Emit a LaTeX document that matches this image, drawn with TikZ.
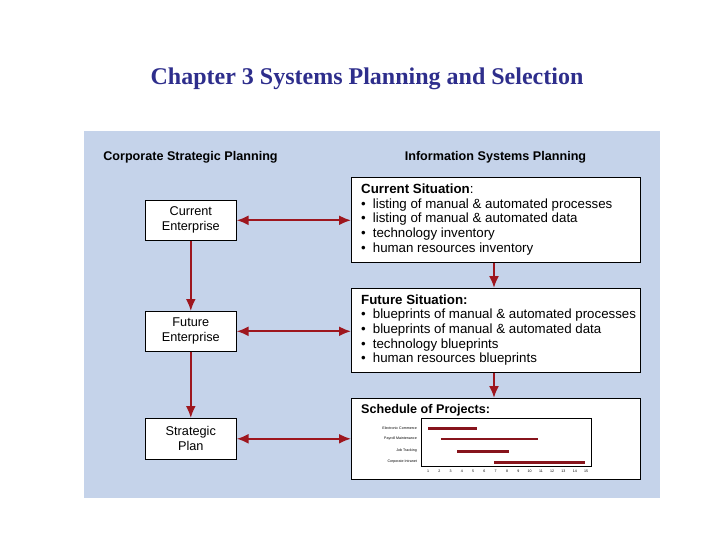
\documentclass[tikz,border=0pt]{standalone}
\usepackage{fontspec}
\setmainfont{Liberation Serif}
\setsansfont{Liberation Sans}
\usetikzlibrary{arrows.meta}

\definecolor{panelblue}{RGB}{197,211,234}
\definecolor{arrowred}{RGB}{158,22,30}
\definecolor{barred}{RGB}{135,20,28}
\definecolor{titleblue}{RGB}{46,46,140}

\begin{document}
\begin{tikzpicture}[x=1pt,y=-1pt]

	\tikzset{myredarrow/.style={-{Latex[length=12pt,width=10pt]}, arrowred, line width=2pt}}
	\tikzset{myboth/.style={{Latex[length=12pt,width=10pt]}-{Latex[length=12pt,width=10pt]}, arrowred, line width=2pt}}
	\tikzset{enterprisebox/.style={draw, fill=white, line width=0.6pt, anchor=north west, minimum width=91pt, minimum height=40pt, inner sep=0pt, align=center, font=\sffamily\fontsize{12.7}{15}\selectfont}}
	\tikzset{situationbox/.style={draw, fill=white, line width=0.6pt, anchor=north west, minimum width=289pt}}
	\tikzset{situationtext/.style={anchor=west, inner sep=0pt, align=left, font=\sffamily\fontsize{13.3}{14.6}\selectfont}}
	\tikzset{charttext/.style={font=\sffamily\fontsize{3.6}{4}\selectfont, inner sep=0pt}}

	% Parameters
	\def\ux{11.29}   % one chart unit
	\def\xo{416.71}  % chart origin

	\useasboundingbox (0,0) rectangle (720,540);

	% title
	\node[font=\bfseries\fontsize{24}{28}\selectfont, text=titleblue] (title) at (367,79) {Chapter 3 Systems Planning and Selection};

	% panel
	\fill[panelblue] (84,131) rectangle (660,498);

	\node[font=\sffamily\bfseries\fontsize{12.6}{15}\selectfont] (corp) at (190.5,157) {Corporate Strategic Planning};
	\node[font=\sffamily\bfseries\fontsize{12.6}{15}\selectfont] (isp) at (495.5,157) {Information Systems Planning};

	%left column
	\node[enterprisebox] (curent) at (145,200) {Current\\Enterprise};
	\node[enterprisebox] (futent) at (145,311) {Future\\Enterprise};
	\node[enterprisebox, minimum height=41pt] (plan) at (145,418) {Strategic\\Plan};

	%right column
	\node[situationbox, minimum height=85pt] (cursit) at (351,177) {};
	\node[situationtext] (cursittext) at (361,219.5) {%
		\textbf{Current Situation}:\\
		\textbullet\hspace{7pt}listing of manual \& automated processes\\
		\textbullet\hspace{7pt}listing of manual \& automated data\\
		\textbullet\hspace{7pt}technology inventory\\
		\textbullet\hspace{7pt}human resources inventory};
	\node[situationbox, minimum height=84pt] (futsit) at (351,288) {};
	\node[situationtext] (futsittext) at (361,330) {%
		\textbf{Future Situation:}\\
		\textbullet\hspace{7pt}blueprints of manual \& automated processes\\
		\textbullet\hspace{7pt}blueprints of manual \& automated data\\
		\textbullet\hspace{7pt}technology blueprints\\
		\textbullet\hspace{7pt}human resources blueprints};
	\node[situationbox, minimum height=81pt] (sched) at (351,398) {};
	\node[anchor=west, inner sep=0pt, font=\sffamily\bfseries\fontsize{12.6}{15}\selectfont] (schedtitle) at (361,410) {Schedule of Projects:};

	% arrows
	\draw[myredarrow] (curent) -- (futent);
	\draw[myredarrow] (futent) -- (plan);
	\draw[myredarrow] (cursit.south -| 494,0) -- (futsit.north -| 494,0);
	\draw[myredarrow] (futsit.south -| 494,0) -- (sched.north -| 494,0);

	\draw[myboth] (curent.east) -- (curent.east -| cursit.west);
	\draw[myboth] (futent.east) -- (futent.east -| futsit.west);
	\draw[myboth] (plan.east) -- (plan.east -| sched.west);

	% chart
	\draw[line width=0.4pt] (421,418) rectangle (591,466);
	\foreach \name/\from/\to/\yy/\w in {Electronic Commerce/1/5.34/428/3pt,
		Payroll Maintenance/2.15/10.75/439/1.5pt,
		Job Tracking/3.57/8.17/451/3pt,
		Corporate Intranet/6.85/14.9/462/3pt}
	{
		\node[charttext, anchor=east] at (417,\yy) {\name};
		\draw[barred, line width=\w] (\xo+\ux*\from,\yy) -- (\xo+\ux*\to,\yy);
	}
	\foreach \t in {1,...,15}
		\node[charttext] at (\xo+\ux*\t,471) {\t};

\end{tikzpicture}
\end{document}
